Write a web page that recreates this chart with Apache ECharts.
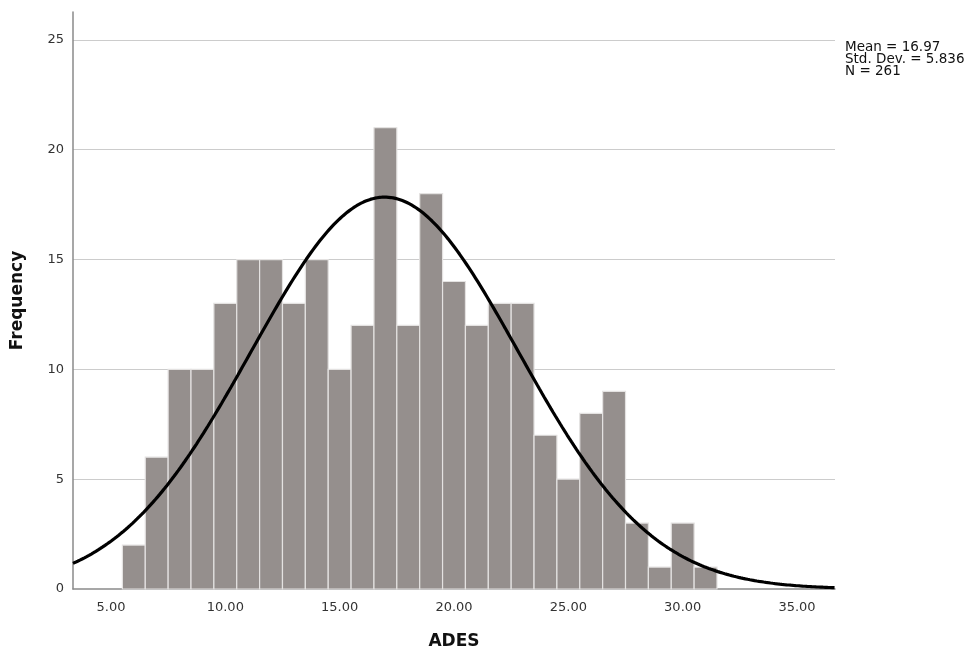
<!DOCTYPE html>
<html>
<head>
<meta charset="utf-8">
<title>ADES histogram</title>
<script src="https://cdn.jsdelivr.net/npm/echarts@6/dist/echarts.min.js"></script>
<style>
  html, body { margin: 0; padding: 0; background: #fff; }
  #chart { width: 972px; height: 654px; }
</style>
</head>
<body>
<div id="chart"></div>
<script>
// bin centres (bin width 1) and frequencies
const binCenters = [6, 7, 8, 9, 10, 11, 12, 13, 14, 15, 16, 17, 18, 19, 20, 21, 22, 23, 24, 25, 26, 27, 28, 29, 30, 31]
const counts = [2, 6, 10, 10, 13, 15, 15, 13, 15, 10, 12, 21, 12, 18, 14, 12, 13, 13, 7, 5, 8, 9, 3, 1, 3, 1]
const xTicks = [5, 10, 15, 20, 25, 30, 35]
const yTicks = [0, 5, 10, 15, 20, 25]
// summary stats shown on the chart
const mean = 16.97
const stdDev = 5.836
const n = 261
const binWidth = 1

const xMin = 3.34
const xMax = 36.66

// normal curve overlay built from the stats above
const curve = []
for (let x = xMin; x <= xMax + 1e-9; x += 0.1) {
  const z = (x - mean) / stdDev
  const y = n * binWidth / (stdDev * Math.sqrt(2 * Math.PI)) * Math.exp(-z * z / 2)
  curve.push([x, y])
}

const bars = binCenters.map((c, i) => [c, counts[i]])

const font = 'DejaVu Sans'
const chart = echarts.init(document.getElementById('chart'))

chart.setOption({
  animation: false,
  backgroundColor: '#fff',
  grid: { left: 73, right: 137, top: 12, bottom: 65, containLabel: false, outerBoundsMode: 'none' },
  xAxis: {
    type: 'value',
    min: xMin,
    max: xMax,
    name: 'ADES',
    nameLocation: 'middle',
    nameGap: 44,
    nameTextStyle: { fontFamily: font, fontSize: 17, fontWeight: 'bold', color: '#111' },
    axisLine: { show: true, lineStyle: { color: '#8a8a8a', width: 1.5 } },
    axisTick: { show: false },
    splitLine: { show: false },
    axisLabel: {
      customValues: xTicks,
      fontFamily: font,
      fontSize: 13,
      color: '#333',
      margin: 12,
      formatter: v => v.toFixed(2)
    }
  },
  yAxis: {
    type: 'value',
    min: 0,
    max: 26.27,
    interval: 5,
    name: 'Frequency',
    nameLocation: 'middle',
    nameGap: 47,
    nameTextStyle: { fontFamily: font, fontSize: 17, fontWeight: 'bold', color: '#111' },
    axisLine: { show: true, lineStyle: { color: '#8a8a8a', width: 1.5 } },
    axisTick: { show: false },
    axisLabel: {
      customValues: yTicks,
      fontFamily: font,
      fontSize: 13,
      color: '#333',
      margin: 9
    },
    splitLine: {
      show: true,
      showMinLine: false,
      showMaxLine: false,
      lineStyle: { color: '#cccccc', width: 1 }
    }
  },
  graphic: [{
    type: 'text',
    left: 845,
    top: 40,
    style: {
      text: 'Mean = ' + mean.toFixed(2) + '\nStd. Dev. = ' + stdDev.toFixed(3) + '\nN = ' + n,
      font: '13.5px "DejaVu Sans"',
      fill: '#111',
      lineHeight: 12
    }
  }],
  series: [
    {
      type: 'custom',
      data: bars,
      renderItem: (params, api) => {
        const c = api.value(0)
        const v = api.value(1)
        const p0 = api.coord([c - binWidth / 2, v])
        const p1 = api.coord([c + binWidth / 2, 0])
        return {
          type: 'rect',
          shape: { x: p0[0], y: p0[1], width: p1[0] - p0[0], height: p1[1] - p0[1] },
          style: { fill: '#958f8d', stroke: '#e4e2e1', lineWidth: 1.2 }
        }
      },
      encode: { x: 0, y: 1 },
      z: 2
    },
    {
      type: 'line',
      data: curve,
      smooth: false,
      symbol: 'none',
      lineStyle: { color: '#000', width: 3.2 },
      z: 3
    }
  ]
})
</script>
</body>
</html>
